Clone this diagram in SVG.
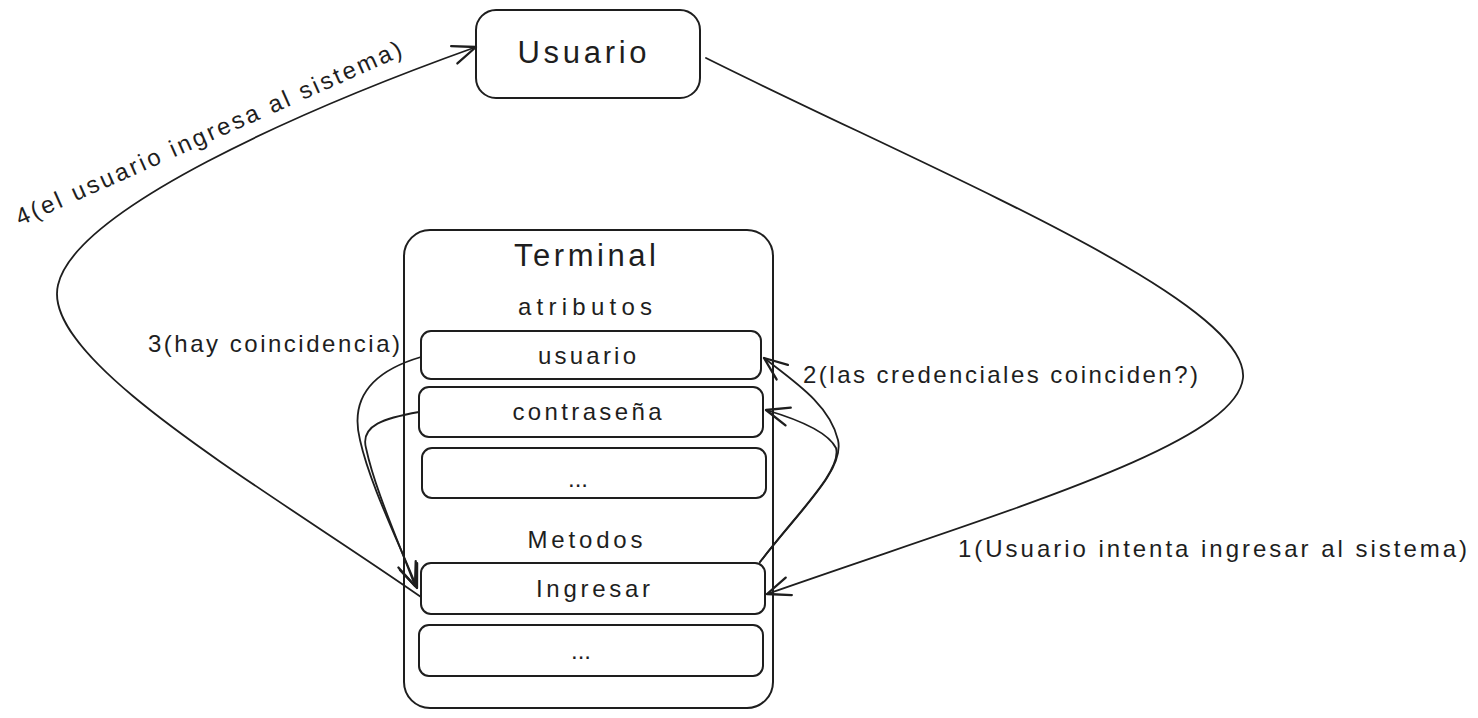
<svg xmlns="http://www.w3.org/2000/svg" width="1478" height="718" viewBox="0 0 1478 718">
<defs>
<marker id="arr" markerUnits="userSpaceOnUse" markerWidth="30" markerHeight="30" viewBox="-22 -12 26 24" refX="0" refY="0" orient="auto">
<path d="M-20,-8 L0,0 L-20,8" fill="none" stroke="#1e1e1e" stroke-width="2" stroke-linecap="round" stroke-linejoin="round"/>
</marker>
<style>
.box{fill:#fff;stroke:#1e1e1e;stroke-width:2}
.t{font-family:"Liberation Sans","Noto Sans",sans-serif;fill:#1e1e1e;text-anchor:middle}
.l{font-family:"Liberation Sans","Noto Sans",sans-serif;fill:#1e1e1e;font-size:24px}
.c{fill:none;stroke:#1e1e1e;stroke-width:1.8;stroke-linecap:round}
</style>
</defs>
<rect width="1478" height="718" fill="#fff"/>
<g id="usuario-node">
<rect class="box" x="476" y="10" width="224" height="88" rx="20"/>
<text class="t" x="582" y="63" font-size="31" textLength="129">Usuario</text>
</g>
<g id="terminal-node">
<rect class="box" x="404" y="230" width="369" height="478" rx="26"/>
<text class="t" x="585" y="266" font-size="31" textLength="142">Terminal</text>
<text class="t" x="585" y="315" font-size="24" textLength="134">atributos</text>
<text class="t" x="585" y="548" font-size="24" textLength="115">Metodos</text>
</g>
<g id="attr-usuario">
<rect class="box" x="421" y="331" width="340" height="48" rx="10"/>
<text class="t" x="587" y="364" font-size="24" textLength="98">usuario</text>
</g>
<g id="attr-contrasena">
<rect class="box" x="419" y="387" width="344" height="50" rx="10"/>
<text class="t" x="587" y="420" font-size="24" textLength="149">contraseña</text>
</g>
<g id="attr-more">
<rect class="box" x="422" y="448" width="344" height="50" rx="10"/>
<text class="t" x="578" y="487" font-size="24">...</text>
</g>
<g id="met-ingresar">
<rect class="box" x="421" y="563" width="344" height="51" rx="10"/>
<text class="t" x="593" y="597" font-size="24" textLength="114">Ingresar</text>
</g>
<g id="met-more">
<rect class="box" x="419" y="625" width="344" height="51" rx="10"/>
<text class="t" x="581" y="659" font-size="24">...</text>
</g>
<g id="connectors">
<path class="c" d="M706,58 C930,170 1250,300 1243,378 C1236,445 1000,512 767,594" marker-end="url(#arr)"/>
<path class="c" d="M760,562 C800,510 845,470 838,440 C830,405 795,382 764,358" marker-end="url(#arr)"/>
<path class="c" d="M760,562 C800,510 842,470 836,448 C828,432 800,420 766,410" marker-end="url(#arr)"/>
<path class="c" d="M421,357 C370,372 350,400 360,440 C370,485 400,545 417,588" marker-end="url(#arr)"/>
<path class="c" d="M419,412 C385,418 360,425 366,448 C375,490 400,545 415,586" marker-end="url(#arr)"/>
<path class="c" d="M421,597 C260,485 40,360 58,285 C75,210 300,110 476,47" marker-end="url(#arr)"/>
</g>
<g id="labels">
<text class="l" x="958" y="557" textLength="509">1(Usuario intenta ingresar al sistema)</text>
<text class="l" x="803" y="383" textLength="395">2(las credenciales coinciden?)</text>
<text class="l" x="148" y="352" textLength="252">3(hay coincidencia)</text>
<text class="l" x="20" y="226" textLength="420" transform="rotate(-24 20 226)">4(el usuario ingresa al sistema)</text>
</g>
</svg>
